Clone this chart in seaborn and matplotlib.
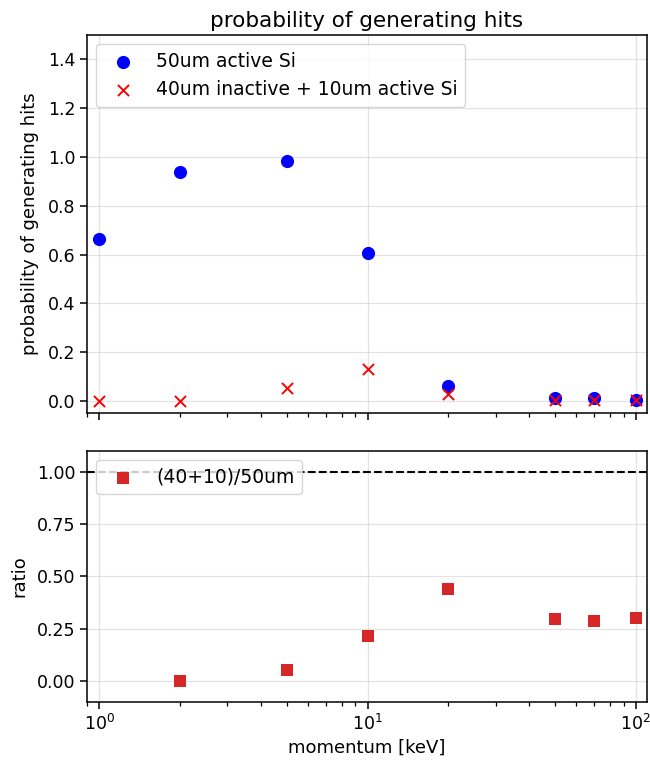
import numpy as np
import pandas as pd
import matplotlib
matplotlib.use("Agg")
import matplotlib.pyplot as plt
import seaborn as sns

# momentum points [keV]
momentum = [1, 2, 5, 10, 20, 50, 70, 100]
# hit probability, 50um fully active silicon
prob_active = [0.665, 0.940, 0.985, 0.605, 0.062, 0.010, 0.010, 0.005]
# hit probability, 40um inactive + 10um active silicon
prob_inactive = [0.0, 0.0, 0.053, 0.129, 0.027, 0.003, 0.003, 0.0015]
# ratio (40+10)/50um; undefined at the first point
ratio = [np.nan, 0.0, 0.053, 0.213, 0.440, 0.295, 0.288, 0.300]

df = pd.DataFrame({
    "momentum": momentum,
    "active": prob_active,
    "inactive": prob_inactive,
    "ratio": ratio,
})

fig = plt.figure(figsize=(6.5, 7.66), dpi=100)
ax1 = fig.add_axes([0.1338, 0.4608, 0.8615, 0.4935])
ax2 = fig.add_axes([0.1338, 0.0839, 0.8615, 0.3273], sharex=ax1)

for ax in (ax1, ax2):
    ax.set_xscale("log")

sns.scatterplot(data=df, x="momentum", y="active", ax=ax1, marker="o",
                color="blue", s=90, linewidth=0, label="50um active Si",
                zorder=3)
sns.scatterplot(data=df, x="momentum", y="inactive", ax=ax1, marker="x",
                color="red", s=64, linewidth=1.4,
                label="40um inactive + 10um active Si", zorder=4)

sns.scatterplot(data=df.dropna(subset=["ratio"]), x="momentum", y="ratio",
                ax=ax2, marker="s", color="#d62728", s=81, linewidth=0,
                label="(40+10)/50um", zorder=3)
ax2.axhline(1.0, color="black", linestyle="--", linewidth=1.5, zorder=2)

ax1.set_xlim(0.9, 110)
ax1.set_ylim(-0.05, 1.5)
ax2.set_ylim(-0.1, 1.1)
ax1.set_yticks([0.0, 0.2, 0.4, 0.6, 0.8, 1.0, 1.2, 1.4])
ax2.set_yticks([0.0, 0.25, 0.5, 0.75, 1.0])

ax1.set_title("probability of generating hits", fontsize=15.5)
ax1.set_xlabel("")
ax1.set_ylabel("probability of generating hits", fontsize=13, labelpad=6)
ax2.set_xlabel("momentum [keV]", fontsize=13)
ax2.set_ylabel("ratio", fontsize=13, labelpad=6)
ax1.tick_params(labelbottom=False)

for ax in (ax1, ax2):
    ax.grid(True, which="major", color="#b0b0b0", alpha=0.35, linewidth=0.9)
    ax.tick_params(which="major", labelsize=12.5, length=5, width=1.1)
    ax.tick_params(which="minor", length=3, width=0.9)
    for sp in ax.spines.values():
        sp.set_linewidth(1.1)
    ax.legend(loc="upper left", fontsize=13.5)

fig.savefig("out.png", dpi=100)
